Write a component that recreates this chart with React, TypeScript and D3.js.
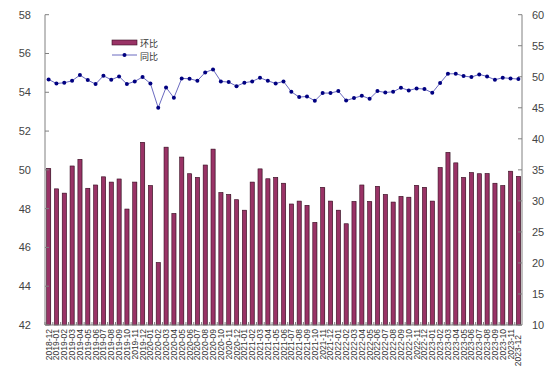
import React from "react";
import * as d3 from "d3";

const months: string[] = (() => {
  const out: string[] = [];
  for (let y = 2018; y <= 2023; y++) {
    for (let m = 1; m <= 12; m++) {
      if (y === 2018 && m < 12) continue;
      out.push(`${y}-${String(m).padStart(2, "0")}`);
    }
  }
  return out;
})();

const momValues = [
  50.08, 49.02, 48.8, 50.2, 50.54, 49.05, 49.22, 49.64, 49.37, 49.53,
  47.98, 49.37, 51.42, 49.19, 45.22, 51.17, 47.75, 50.66, 49.8, 49.61,
  50.25, 51.07, 48.83, 48.73, 48.46, 47.92, 49.37, 50.05, 49.54, 49.61,
  49.31, 48.24, 48.39, 48.17, 47.29, 49.1, 48.39, 47.92, 47.22, 48.37,
  49.22, 48.37, 49.15, 48.73, 48.34, 48.63, 48.59, 49.2, 49.1, 48.39,
  50.12, 50.9, 50.36, 49.61, 49.86, 49.8, 49.81, 49.31, 49.19, 49.93,
  49.66,
];

const yoyValues = [
  49.57, 48.92, 49.03, 49.35, 50.27, 49.46, 48.82, 50.16, 49.52, 50.05,
  48.82, 49.25, 49.95, 48.92, 45.0, 48.28, 46.61, 49.73, 49.68, 49.35,
  50.7, 51.18, 49.25, 49.14, 48.49, 49.03, 49.25, 49.84, 49.35, 48.92,
  49.25, 47.58, 46.72, 46.83, 46.13, 47.37, 47.37, 47.69, 46.18, 46.56,
  46.94, 46.45, 47.69, 47.47, 47.58, 48.23, 47.8, 48.12, 48.01, 47.42,
  48.98, 50.48, 50.48, 50.11, 49.95, 50.38, 50.05, 49.52, 49.84, 49.73,
  49.62,
];

const leftTicks = [42, 44, 46, 48, 50, 52, 54, 56, 58];
const rightTicks = [10, 15, 20, 25, 30, 35, 40, 45, 50, 55, 60];

const W = 555;
const H = 377;
const left = 45;
const right = 522;
const top = 14.7;
const bottom = 325;

export default function App() {
  const x = d3.scaleBand<string>().domain(months).range([left, right]).paddingInner(0.48).paddingOuter(0.2);
  const yL = d3.scaleLinear().domain([42, 58]).range([bottom, top]);
  const yR = d3.scaleLinear().domain([10, 60]).range([bottom, top]);
  const step = x.step();
  const cx = (m: string) => (x(m) as number) + x.bandwidth() / 2;

  const line = d3
    .line<number>()
    .x((_, i) => cx(months[i]))
    .y((d) => yR(d));

  const font = "'Liberation Sans', Arial, sans-serif";
  const cjk = "'Noto Sans CJK SC', sans-serif";

  return (
    <svg width={W} height={H} style={{ position: "absolute", left: 0, top: 0, background: "#fff" }}>
      {/* bars */}
      {momValues.map((v, i) => {
        const m = months[i];
        const bx = x(m) as number;
        return (
          <g key={m}>
            <rect x={bx + 0.5} y={yL(v)} width={x.bandwidth()} height={bottom - yL(v)} fill="#a0a0a0" />
            <rect x={bx} y={yL(v)} width={x.bandwidth()} height={bottom - yL(v)} fill="#993366" stroke="#3a0f24" strokeWidth={0.6} />
          </g>
        );
      })}
      {/* axes */}
      <line x1={left} y1={top} x2={left} y2={bottom} stroke="#808080" strokeWidth={1} />
      <line x1={right} y1={top} x2={right} y2={bottom} stroke="#808080" strokeWidth={1} />
      <line x1={left} y1={bottom} x2={right} y2={bottom} stroke="#808080" strokeWidth={1} />
      {leftTicks.map((t) => (
        <g key={"l" + t}>
          <line x1={left} x2={left + 4} y1={yL(t)} y2={yL(t)} stroke="#808080" />
          <text x={31} y={yL(t) + 4} textAnchor="end" fontSize={11} fill="#444" fontFamily={font}>
            {t}
          </text>
        </g>
      ))}
      {rightTicks.map((t) => (
        <g key={"r" + t}>
          <line x1={right - 4} x2={right} y1={yR(t)} y2={yR(t)} stroke="#808080" />
          <text x={532} y={yR(t) + 4} textAnchor="start" fontSize={11} fill="#444" fontFamily={font}>
            {t}
          </text>
        </g>
      ))}
      {months.map((m, i) => (
        <line key={"xt" + m} x1={left + step * i} x2={left + step * i} y1={bottom} y2={bottom - 3} stroke="#808080" />
      ))}
      {/* x labels */}
      {months.map((m, i) => {
        const lx = cx(m) + 3;
        const ly = i === months.length - 1 ? 335 : 329;
        return (
          <text
            key={"xl" + m}
            transform={`translate(${lx},${ly}) rotate(-90)`}
            textAnchor="end"
            fontSize={8.5}
            fill="#333"
            fontFamily={font}
          >
            {m}
          </text>
        );
      })}
      {/* line */}
      <path d={line(yoyValues) || ""} fill="none" stroke="#6a6ac0" strokeWidth={1} />
      {yoyValues.map((v, i) => (
        <circle key={"p" + i} cx={cx(months[i])} cy={yR(v)} r={2} fill="#000080" />
      ))}
      {/* legend */}
      <rect x={112} y={40} width={25} height={5} fill="#993366" stroke="#3a0f24" strokeWidth={0.6} />
      <text x={140} y={46.5} fontSize={9} fill="#333" fontFamily={cjk}>
        环比
      </text>
      <line x1={112} x2={137} y1={55} y2={55} stroke="#6a6ac0" strokeWidth={1} />
      <circle cx={124.5} cy={55} r={2} fill="#000080" />
      <text x={140} y={59.5} fontSize={9} fill="#333" fontFamily={cjk}>
        同比
      </text>
    </svg>
  );
}
